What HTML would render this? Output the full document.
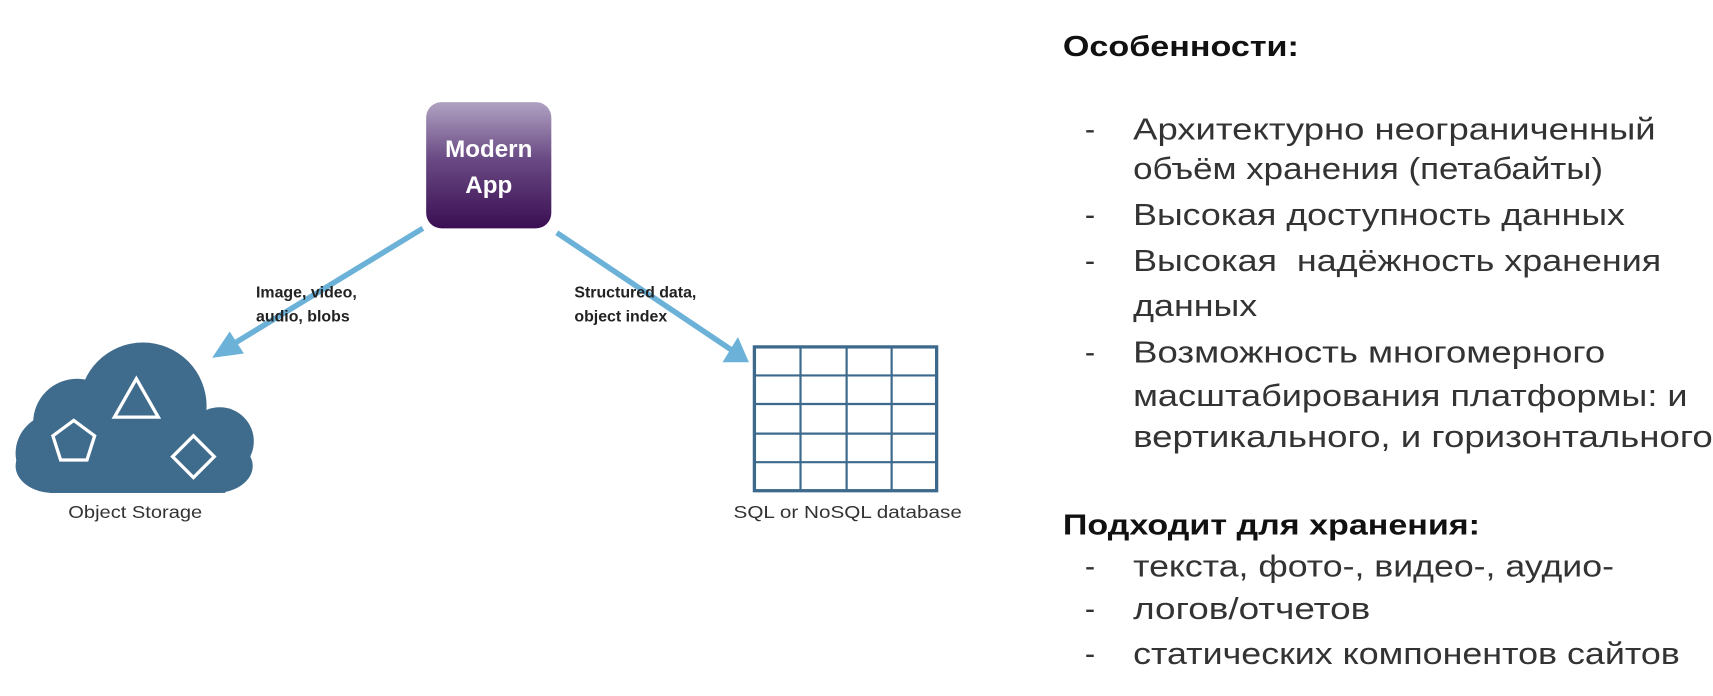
<!DOCTYPE html>
<html><head><meta charset="utf-8"><style>
html,body{margin:0;padding:0;background:#fff;}
svg{display:block;}
</style></head><body>
<svg width="1713" height="696" viewBox="0 0 1560 634" xmlns="http://www.w3.org/2000/svg">
<defs>
<linearGradient id="g" x1="0" y1="0" x2="0" y2="1">
<stop offset="0" stop-color="#b0a2c2"/><stop offset="0.45" stop-color="#6a4a84"/><stop offset="1" stop-color="#3a0e52"/>
</linearGradient>
</defs>
<rect width="1560" height="634" fill="#fff"/>
<rect x="388" y="93" width="114" height="115" rx="14" fill="url(#g)"/>
<g font-family="Liberation Sans, sans-serif" font-weight="bold" fill="#fff" font-size="22" text-anchor="middle">
<text x="445" y="143">Modern</text><text x="445" y="176">App</text>
</g>
<g stroke="#6cb2d8" stroke-width="5" fill="#6cb2d8">
<line x1="385" y1="208" x2="208" y2="316"/>
<line x1="507" y1="212" x2="668" y2="320"/>
</g>
<polygon points="193,326 209,302 222,322" fill="#6cb2d8"/>
<polygon points="682,330 658,330 672,307" fill="#6cb2d8"/>
<g font-family="Liberation Sans, sans-serif" font-weight="bold" fill="#222" font-size="14.5">
<text x="233" y="271">Image, video,</text><text x="233" y="293">audio, blobs</text>
<text x="523" y="271">Structured data,</text><text x="523" y="293">object index</text>
</g>
<!-- cloud -->
<g fill="#3f6b8c">
<circle cx="130" cy="370" r="58"/>
<circle cx="70" cy="385" r="40"/>
<circle cx="50" cy="413" r="36"/>
<circle cx="200" cy="402" r="31"/>
<rect x="14" y="400" width="216" height="49" rx="34"/>
<rect x="45" y="395" width="160" height="54"/>
</g>
<g fill="none" stroke="#fff" stroke-width="3">
<polygon points="124,345 104,380 144,380"/>
<polygon points="67,383 86,397 79,419 55,419 48,397"/>
<polygon points="176,397 195,416 176,435 157,416"/>
</g>
<g font-family="Liberation Sans, sans-serif" fill="#333" font-size="16">
<text x="62" y="472" textLength="122" lengthAdjust="spacingAndGlyphs">Object Storage</text>
<text x="668" y="472" textLength="208" lengthAdjust="spacingAndGlyphs">SQL or NoSQL database</text>
</g>
<g stroke="#3d6a8c" fill="none">
<rect x="687" y="316" width="166" height="131" stroke-width="3"/>
<g stroke-width="2">
<line x1="729" y1="316" x2="729" y2="447"/><line x1="771" y1="316" x2="771" y2="447"/><line x1="812" y1="316" x2="812" y2="447"/>
<line x1="687" y1="342" x2="853" y2="342"/><line x1="687" y1="368" x2="853" y2="368"/><line x1="687" y1="395" x2="853" y2="395"/><line x1="687" y1="421" x2="853" y2="421"/>
</g></g>
<g font-family="Liberation Sans, sans-serif" fill="#111">
<text x="968" y="51" font-size="26" font-weight="bold" textLength="215" lengthAdjust="spacingAndGlyphs">Особенности:</text>
<text x="968" y="487" font-size="26" font-weight="bold" textLength="380" lengthAdjust="spacingAndGlyphs">Подходит для хранения:</text>
</g>
<g font-family="Liberation Sans, sans-serif" fill="#333" font-size="28">
<text x="988" y="127">-</text><text x="1032" y="127" textLength="476" lengthAdjust="spacingAndGlyphs">Архитектурно неограниченный</text>
<text x="1032" y="163" textLength="428" lengthAdjust="spacingAndGlyphs">объём хранения (петабайты)</text>
<text x="988" y="205">-</text><text x="1032" y="205" textLength="448" lengthAdjust="spacingAndGlyphs">Высокая доступность данных</text>
<text x="988" y="247">-</text><text x="1032" y="247" textLength="481" lengthAdjust="spacingAndGlyphs" xml:space="preserve">Высокая  надёжность хранения</text>
<text x="1032" y="288" textLength="113" lengthAdjust="spacingAndGlyphs">данных</text>
<text x="988" y="330">-</text><text x="1032" y="330" textLength="430" lengthAdjust="spacingAndGlyphs">Возможность многомерного</text>
<text x="1032" y="370" textLength="505" lengthAdjust="spacingAndGlyphs">масштабирования платформы: и</text>
<text x="1032" y="407" textLength="528" lengthAdjust="spacingAndGlyphs">вертикального, и горизонтального</text>
<text x="988" y="525">-</text><text x="1032" y="525" textLength="438" lengthAdjust="spacingAndGlyphs">текста, фото-, видео-, аудио-</text>
<text x="988" y="564">-</text><text x="1032" y="564" textLength="216" lengthAdjust="spacingAndGlyphs">логов/отчетов</text>
<text x="988" y="605">-</text><text x="1032" y="605" textLength="498" lengthAdjust="spacingAndGlyphs">статических компонентов сайтов</text>
</g>
</svg>
</body></html>
